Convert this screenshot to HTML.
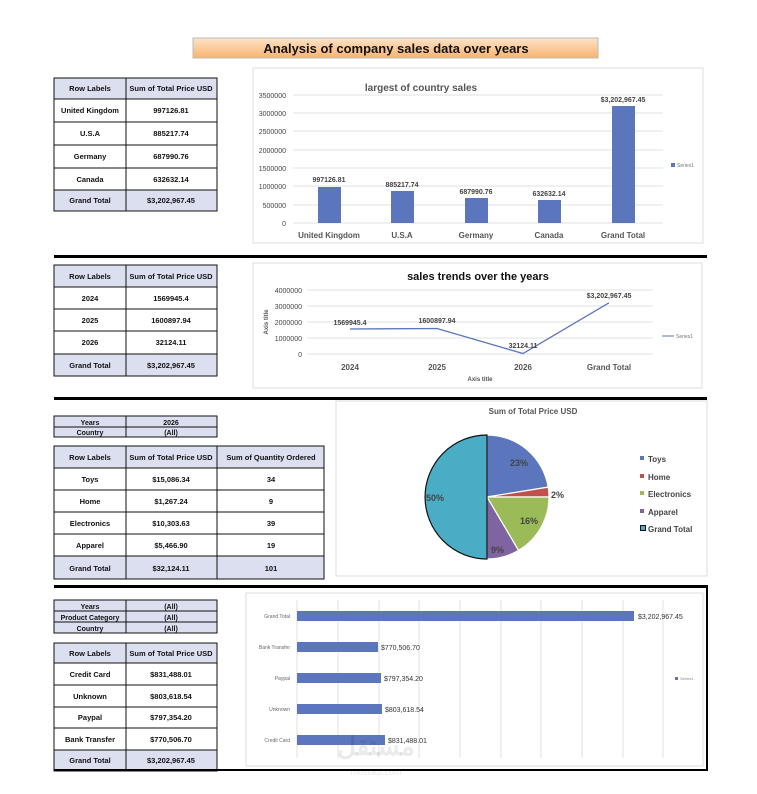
<!DOCTYPE html>
<html><head><meta charset="utf-8"><style>
body{margin:0;background:#fff;}
svg{display:block;font-family:"Liberation Sans",sans-serif;}
.t{font-size:7.5px;font-weight:bold;fill:#111;}
.h{fill:#dcdff0;}
.ax{font-size:7px;fill:#444;}
.lb{font-size:8px;fill:#555;font-weight:bold;}
</style></head><body>
<svg width="757" height="794" viewBox="0 0 757 794">
<defs><linearGradient id="g" x1="0" y1="0" x2="0" y2="1"><stop offset="0" stop-color="#fde3c8"/><stop offset="1" stop-color="#f7b36f"/></linearGradient></defs>
<rect width="757" height="794" fill="#fff"/>
<!-- title -->
<rect x="193" y="38" width="405" height="20" fill="url(#g)" stroke="#bbb"/>
<text x="396" y="53" text-anchor="middle" font-size="13" font-weight="bold" fill="#111">Analysis of company sales data over years</text>

<!-- table1 -->
<g stroke="#111" stroke-width="1" fill="none">
<rect class="h" x="54" y="78" width="163" height="21" stroke="#111"/>
<rect class="h" x="54" y="190" width="163" height="21" stroke="#111"/>
<rect x="54" y="78" width="163" height="133"/>
<line x1="126" y1="78" x2="126" y2="211"/>
<line x1="54" y1="99" x2="217" y2="99"/><line x1="54" y1="122" x2="217" y2="122"/><line x1="54" y1="145" x2="217" y2="145"/><line x1="54" y1="168" x2="217" y2="168"/><line x1="54" y1="190" x2="217" y2="190"/>
</g>
<g class="t" text-anchor="middle">
<text x="90" y="91">Row Labels</text><text x="171" y="91">Sum of Total Price USD</text>
<text x="90" y="113">United Kingdom</text><text x="171" y="113">997126.81</text>
<text x="90" y="136">U.S.A</text><text x="171" y="136">885217.74</text>
<text x="90" y="159">Germany</text><text x="171" y="159">687990.76</text>
<text x="90" y="182">Canada</text><text x="171" y="182">632632.14</text>
<text x="90" y="203">Grand Total</text><text x="171" y="203">$3,202,967.45</text>
</g>

<!-- chart1 -->
<rect x="253" y="68" width="450" height="175" fill="#fff" stroke="#ddd"/>
<text x="421" y="91" text-anchor="middle" font-size="10" font-weight="bold" fill="#555">largest of country sales</text>
<g stroke="#e2e2e2">
<line x1="293" y1="95" x2="663" y2="95"/><line x1="293" y1="113" x2="663" y2="113"/><line x1="293" y1="131" x2="663" y2="131"/><line x1="293" y1="150" x2="663" y2="150"/><line x1="293" y1="168" x2="663" y2="168"/><line x1="293" y1="186" x2="663" y2="186"/><line x1="293" y1="205" x2="663" y2="205"/><line x1="293" y1="223" x2="663" y2="223"/>
</g>
<g class="ax" text-anchor="end">
<text x="286" y="98">3500000</text><text x="286" y="116">3000000</text><text x="286" y="134">2500000</text><text x="286" y="153">2000000</text><text x="286" y="171">1500000</text><text x="286" y="189">1000000</text><text x="286" y="208">500000</text><text x="286" y="226">0</text>
</g>
<g fill="#5b76bd">
<rect x="318" y="187" width="23" height="36"/><rect x="391" y="191" width="23" height="32"/><rect x="465" y="198" width="23" height="25"/><rect x="538" y="200" width="23" height="23"/><rect x="612" y="106" width="23" height="117"/>
</g>
<g class="ax" text-anchor="middle" font-weight="bold" fill="#555">
<text x="329" y="182">997126.81</text><text x="402" y="187">885217.74</text><text x="476" y="194">687990.76</text><text x="549" y="196">632632.14</text><text x="623" y="102">$3,202,967.45</text>
</g>
<g class="lb" text-anchor="middle">
<text x="329" y="238">United Kingdom</text><text x="402" y="238">U.S.A</text><text x="476" y="238">Germany</text><text x="549" y="238">Canada</text><text x="623" y="238">Grand Total</text>
</g>
<rect x="671" y="163" width="4" height="4" fill="#5b76bd"/><text x="677" y="167" font-size="5" fill="#777">Series1</text>

<rect x="54" y="255" width="653" height="3" fill="#000"/>

<!-- table2 -->
<g stroke="#111" fill="none">
<rect class="h" x="54" y="265" width="163" height="22" stroke="#111"/>
<rect class="h" x="54" y="354" width="163" height="22" stroke="#111"/>
<rect x="54" y="265" width="163" height="111"/>
<line x1="126" y1="265" x2="126" y2="376"/>
<line x1="54" y1="287" x2="217" y2="287"/><line x1="54" y1="309" x2="217" y2="309"/><line x1="54" y1="331" x2="217" y2="331"/><line x1="54" y1="354" x2="217" y2="354"/>
</g>
<g class="t" text-anchor="middle">
<text x="90" y="279">Row Labels</text><text x="171" y="279">Sum of Total Price USD</text>
<text x="90" y="301">2024</text><text x="171" y="301">1569945.4</text>
<text x="90" y="323">2025</text><text x="171" y="323">1600897.94</text>
<text x="90" y="345">2026</text><text x="171" y="345">32124.11</text>
<text x="90" y="368">Grand Total</text><text x="171" y="368">$3,202,967.45</text>
</g>

<!-- chart2 -->
<rect x="253" y="263" width="449" height="125" fill="#fff" stroke="#ddd"/>
<text x="478" y="280" text-anchor="middle" font-size="11" font-weight="bold" fill="#111">sales  trends over the years</text>
<g stroke="#e2e2e2">
<line x1="307" y1="290" x2="653" y2="290"/><line x1="307" y1="306" x2="653" y2="306"/><line x1="307" y1="322" x2="653" y2="322"/><line x1="307" y1="338" x2="653" y2="338"/><line x1="307" y1="354" x2="653" y2="354"/>
</g>
<g class="ax" text-anchor="end">
<text x="302" y="293">4000000</text><text x="302" y="309">3000000</text><text x="302" y="325">2000000</text><text x="302" y="341">1000000</text><text x="302" y="357">0</text>
</g>
<text x="268" y="322" font-size="6" font-weight="bold" fill="#555" text-anchor="middle" transform="rotate(-90 268 322)">Axis title</text>
<polyline points="350,329 437,328.5 523,353.5 609,302.8" fill="none" stroke="#5b76bd" stroke-width="1.3"/>
<g class="ax" text-anchor="middle" font-weight="bold" fill="#555">
<text x="350" y="325">1569945.4</text><text x="437" y="323">1600897.94</text><text x="523" y="348">32124.11</text><text x="609" y="298">$3,202,967.45</text>
</g>
<g class="lb" text-anchor="middle">
<text x="350" y="370">2024</text><text x="437" y="370">2025</text><text x="523" y="370">2026</text><text x="609" y="370">Grand Total</text>
</g>
<text x="480" y="381" font-size="6" font-weight="bold" fill="#555" text-anchor="middle">Axis title</text>
<line x1="662" y1="336" x2="674" y2="336" stroke="#5b76bd"/><text x="676" y="338" font-size="5" fill="#777">Series1</text>

<rect x="54" y="397" width="653" height="3" fill="#000"/>

<!-- table3 filters -->
<g stroke="#111" fill="none">
<rect class="h" x="54" y="416" width="163" height="21" stroke="#111"/>
<line x1="54" y1="427" x2="217" y2="427"/><line x1="126" y1="416" x2="126" y2="437"/>
</g>
<g class="t" text-anchor="middle">
<text x="90" y="425" font-size="7">Years</text><text x="171" y="425" font-size="7">2026</text>
<text x="90" y="435" font-size="7">Country</text><text x="171" y="435" font-size="7">(All)</text>
</g>
<g stroke="#111" fill="none">
<rect class="h" x="54" y="446" width="270" height="22" stroke="#111"/>
<rect class="h" x="54" y="556" width="270" height="23" stroke="#111"/>
<rect x="54" y="446" width="270" height="133"/>
<line x1="126" y1="446" x2="126" y2="579"/><line x1="217" y1="446" x2="217" y2="579"/>
<line x1="54" y1="468" x2="324" y2="468"/><line x1="54" y1="490" x2="324" y2="490"/><line x1="54" y1="512" x2="324" y2="512"/><line x1="54" y1="534" x2="324" y2="534"/><line x1="54" y1="556" x2="324" y2="556"/>
</g>
<g class="t" text-anchor="middle">
<text x="90" y="460">Row Labels</text><text x="171" y="460">Sum of Total Price USD</text><text x="271" y="460">Sum of Quantity Ordered</text>
<text x="90" y="482">Toys</text><text x="171" y="482">$15,086.34</text><text x="271" y="482">34</text>
<text x="90" y="504">Home</text><text x="171" y="504">$1,267.24</text><text x="271" y="504">9</text>
<text x="90" y="526">Electronics</text><text x="171" y="526">$10,303.63</text><text x="271" y="526">39</text>
<text x="90" y="548">Apparel</text><text x="171" y="548">$5,466.90</text><text x="271" y="548">19</text>
<text x="90" y="571">Grand Total</text><text x="171" y="571">$32,124.11</text><text x="271" y="571">101</text>
</g>

<!-- pie -->
<rect x="336" y="401" width="371" height="175" fill="#fff" stroke="#ddd"/>
<text x="533" y="414" text-anchor="middle" font-size="8" font-weight="bold" fill="#555">Sum of Total Price USD</text>
<g stroke="#fff" stroke-width="1.2">
<path d="M487,497 L487,435 A62,62 0 0 1 548.2,487.1 Z" fill="#5b76bd"/>
<path d="M487,497 L548.2,487.1 A62,62 0 0 1 549,497 Z" fill="#c0504d"/>
<path d="M487,497 L549,497 A62,62 0 0 1 518.5,550.4 Z" fill="#9bbb59"/>
<path d="M487,497 L518.5,550.4 A62,62 0 0 1 487,559 Z" fill="#8064a2"/>
</g>
<path d="M487,497 L487,559 A62,62 0 0 1 487,435 Z" fill="#4bacc6" stroke="#111" stroke-width="1.2"/>
<g font-size="9" font-weight="bold" fill="#444">
<text x="510" y="466">23%</text><text x="551" y="498">2%</text><text x="520" y="524">16%</text><text x="491" y="553">9%</text><text x="426" y="501">50%</text>
</g>
<g font-size="8" font-weight="bold" fill="#444">
<rect x="640" y="456" width="4" height="4" fill="#5b76bd"/><text x="648" y="462">Toys</text>
<rect x="640" y="474" width="4" height="4" fill="#c0504d"/><text x="648" y="480">Home</text>
<rect x="640" y="491" width="4" height="4" fill="#9bbb59"/><text x="648" y="497">Electronics</text>
<rect x="640" y="509" width="4" height="4" fill="#8064a2"/><text x="648" y="515">Apparel</text>
<rect x="640.5" y="525.5" width="5" height="5" fill="#4bacc6" stroke="#111"/><text x="648" y="532">Grand Total</text>
</g>

<rect x="54" y="585" width="654" height="3" fill="#000"/>

<!-- table4 -->
<g stroke="#111" fill="none">
<rect class="h" x="54" y="600" width="163" height="33" stroke="#111"/>
<line x1="54" y1="611" x2="217" y2="611"/><line x1="54" y1="622" x2="217" y2="622"/><line x1="126" y1="600" x2="126" y2="633"/>
</g>
<g class="t" text-anchor="middle">
<text x="90" y="609" font-size="7">Years</text><text x="171" y="609" font-size="7">(All)</text>
<text x="90" y="620" font-size="7">Product Category</text><text x="171" y="620" font-size="7">(All)</text>
<text x="90" y="631" font-size="7">Country</text><text x="171" y="631" font-size="7">(All)</text>
</g>
<g stroke="#111" fill="none">
<rect class="h" x="54" y="643" width="163" height="20" stroke="#111"/>
<rect class="h" x="54" y="750" width="163" height="21" stroke="#111"/>
<rect x="54" y="643" width="163" height="128"/>
<line x1="126" y1="643" x2="126" y2="771"/>
<line x1="54" y1="663" x2="217" y2="663"/><line x1="54" y1="685" x2="217" y2="685"/><line x1="54" y1="707" x2="217" y2="707"/><line x1="54" y1="728" x2="217" y2="728"/><line x1="54" y1="750" x2="217" y2="750"/>
</g>
<g class="t" text-anchor="middle">
<text x="90" y="656">Row Labels</text><text x="171" y="656">Sum of Total Price USD</text>
<text x="90" y="677">Credit Card</text><text x="171" y="677">$831,488.01</text>
<text x="90" y="699">Unknown</text><text x="171" y="699">$803,618.54</text>
<text x="90" y="720">Paypal</text><text x="171" y="720">$797,354.20</text>
<text x="90" y="742">Bank Transfer</text><text x="171" y="742">$770,506.70</text>
<text x="90" y="763">Grand Total</text><text x="171" y="763">$3,202,967.45</text>
</g>

<!-- chart4 -->
<rect x="246" y="593" width="457" height="173" fill="#fff" stroke="#ddd"/>
<g stroke="#e2e2e2">
<line x1="297" y1="600" x2="297" y2="758"/><line x1="338" y1="600" x2="338" y2="758"/><line x1="379" y1="600" x2="379" y2="758"/><line x1="419" y1="600" x2="419" y2="758"/><line x1="460" y1="600" x2="460" y2="758"/><line x1="501" y1="600" x2="501" y2="758"/><line x1="541" y1="600" x2="541" y2="758"/><line x1="582" y1="600" x2="582" y2="758"/><line x1="623" y1="600" x2="623" y2="758"/><line x1="663" y1="600" x2="663" y2="758"/>
</g>
<g fill="#5b76bd">
<rect x="297" y="611" width="337" height="10"/><rect x="297" y="642" width="81" height="10"/><rect x="297" y="673" width="84" height="10"/><rect x="297" y="704" width="85" height="10"/><rect x="297" y="735" width="88" height="10"/>
</g>
<g font-size="5" fill="#666" text-anchor="end">
<text x="290" y="618">Grand Total</text><text x="290" y="649">Bank Transfer</text><text x="290" y="680">Paypal</text><text x="290" y="711">Unknown</text><text x="290" y="742">Credit Card</text>
</g>
<g font-size="7" fill="#333">
<text x="638" y="619">$3,202,967.45</text><text x="381" y="650">$770,506.70</text><text x="384" y="681">$797,354.20</text><text x="385" y="712">$803,618.54</text><text x="388" y="743">$831,488.01</text>
</g>
<rect x="675" y="677" width="3" height="3" fill="#5b76bd"/><text x="680" y="680" font-size="4" fill="#888">Series1</text>

<rect x="54" y="769" width="654" height="2" fill="#000"/>
<rect x="706" y="586" width="2" height="185" fill="#000"/>
<text x="376" y="755" font-size="26" font-weight="bold" fill="#000" fill-opacity="0.08" text-anchor="middle">مستقل</text>
<text x="376" y="775" font-size="9" fill="#000" fill-opacity="0.1" text-anchor="middle">mostaql.com</text>
</svg>
</body></html>
